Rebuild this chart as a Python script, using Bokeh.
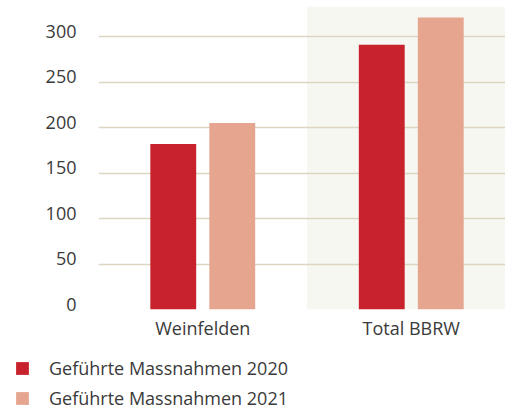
from bokeh.plotting import figure
from bokeh.layouts import column
from bokeh.models import Range1d, FixedTicker, LinearAxis, BoxAnnotation, Legend, LegendItem
from bokeh.embed import file_html
from bokeh.resources import INLINE

categories = ["Weinfelden", "Total BBRW"]
massnahmen_2020 = [182, 291]
massnahmen_2021 = [205, 321]
series_labels = ["Geführte Massnahmen 2020", "Geführte Massnahmen 2021"]
y_ticks = [0, 50, 100, 150, 200, 250, 300]

RED = "#c8232c"
SALMON = "#e5a58e"
TEXT = "#3a3a3a"
FONT = "Open Sans"

Y_MAX = 333
LABEL_SHIFT = 6

p = figure(width=505, height=345, output_backend="svg", toolbar_location=None,
           x_range=Range1d(0, 1.952), y_range=Range1d(0, Y_MAX),
           min_border_left=98, min_border_right=0, min_border_top=6, min_border_bottom=36)
p.outline_line_color = None
p.background_fill_color = "white"
p.border_fill_color = "white"
p.frame_align = False

# shaded band behind second category
band = BoxAnnotation(left=1.0, bottom=0, fill_color="#f7f7f2", fill_alpha=1.0,
                     line_color=None, level="image")
p.add_layout(band)

# grid
p.xgrid.visible = False
p.ygrid.ticker = FixedTicker(ticks=y_ticks[1:])
p.ygrid.grid_line_color = "#dbd5c1"
p.ygrid.grid_line_width = 1.5

# hide main y axis, add label axis shifted slightly upward
p.yaxis.visible = False
p.extra_y_ranges = {"lab": Range1d(-LABEL_SHIFT, Y_MAX - LABEL_SHIFT)}
yax = LinearAxis(y_range_name="lab", ticker=FixedTicker(ticks=y_ticks))
yax.axis_line_color = None
yax.major_tick_line_color = None
yax.minor_tick_line_color = None
yax.major_tick_out = 0
yax.major_tick_in = 0
yax.major_label_standoff = 22
yax.major_label_text_font = FONT
yax.major_label_text_font_size = "18px"
yax.major_label_text_color = TEXT
p.add_layout(yax, "left")

# x axis with category labels
centers = [i + 0.5 for i in range(len(categories))]
xa = p.xaxis[0]
xa.ticker = FixedTicker(ticks=centers)
xa.major_label_overrides = {c: name for c, name in zip(centers, categories)}
xa.axis_line_color = None
xa.major_tick_line_color = None
xa.minor_tick_line_color = None
xa.major_tick_out = 0
xa.major_tick_in = 0
xa.major_label_standoff = 6
xa.major_label_text_font = FONT
xa.major_label_text_font_size = "18px"
xa.major_label_text_color = TEXT

bar_w = 0.22
off = 0.1415
x2020 = [c - off for c in centers]
x2021 = [c + off for c in centers]
p.vbar(x=x2020, top=massnahmen_2020, width=bar_w, bottom=0, fill_color=RED, line_color=None)
p.vbar(x=x2021, top=massnahmen_2021, width=bar_w, bottom=0, fill_color=SALMON, line_color=None)

# legend figure (proxy renderers lie outside its visible range)
pl = figure(width=505, height=65, output_backend="svg", toolbar_location=None,
            x_range=Range1d(0, 1), y_range=Range1d(0, 1),
            x_axis_location=None, y_axis_location=None,
            min_border_left=0, min_border_right=0, min_border_top=0, min_border_bottom=0)
pl.grid.visible = False
pl.outline_line_color = None
pl.frame_align = False
l1 = pl.vbar(x=[5], top=[5], bottom=[4], width=0.1, fill_color=RED, line_color=None)
l2 = pl.vbar(x=[5], top=[5], bottom=[4], width=0.1, fill_color=SALMON, line_color=None)

legend = Legend(items=[LegendItem(label=series_labels[0], renderers=[l1]),
                       LegendItem(label=series_labels[1], renderers=[l2])],
                location=(14, 0), orientation="vertical")
legend.padding = 0
legend.margin = 0
legend.border_line_color = None
legend.background_fill_alpha = 0
legend.glyph_width = 16
legend.glyph_height = 16
legend.label_height = 16
legend.spacing = 6
legend.label_standoff = 19
legend.label_text_font = FONT
legend.label_text_font_size = "18px"
legend.label_text_color = TEXT
pl.add_layout(legend, "center")

layout = column(p, pl, spacing=0)
open("out.html", "w").write(file_html(layout, INLINE))
